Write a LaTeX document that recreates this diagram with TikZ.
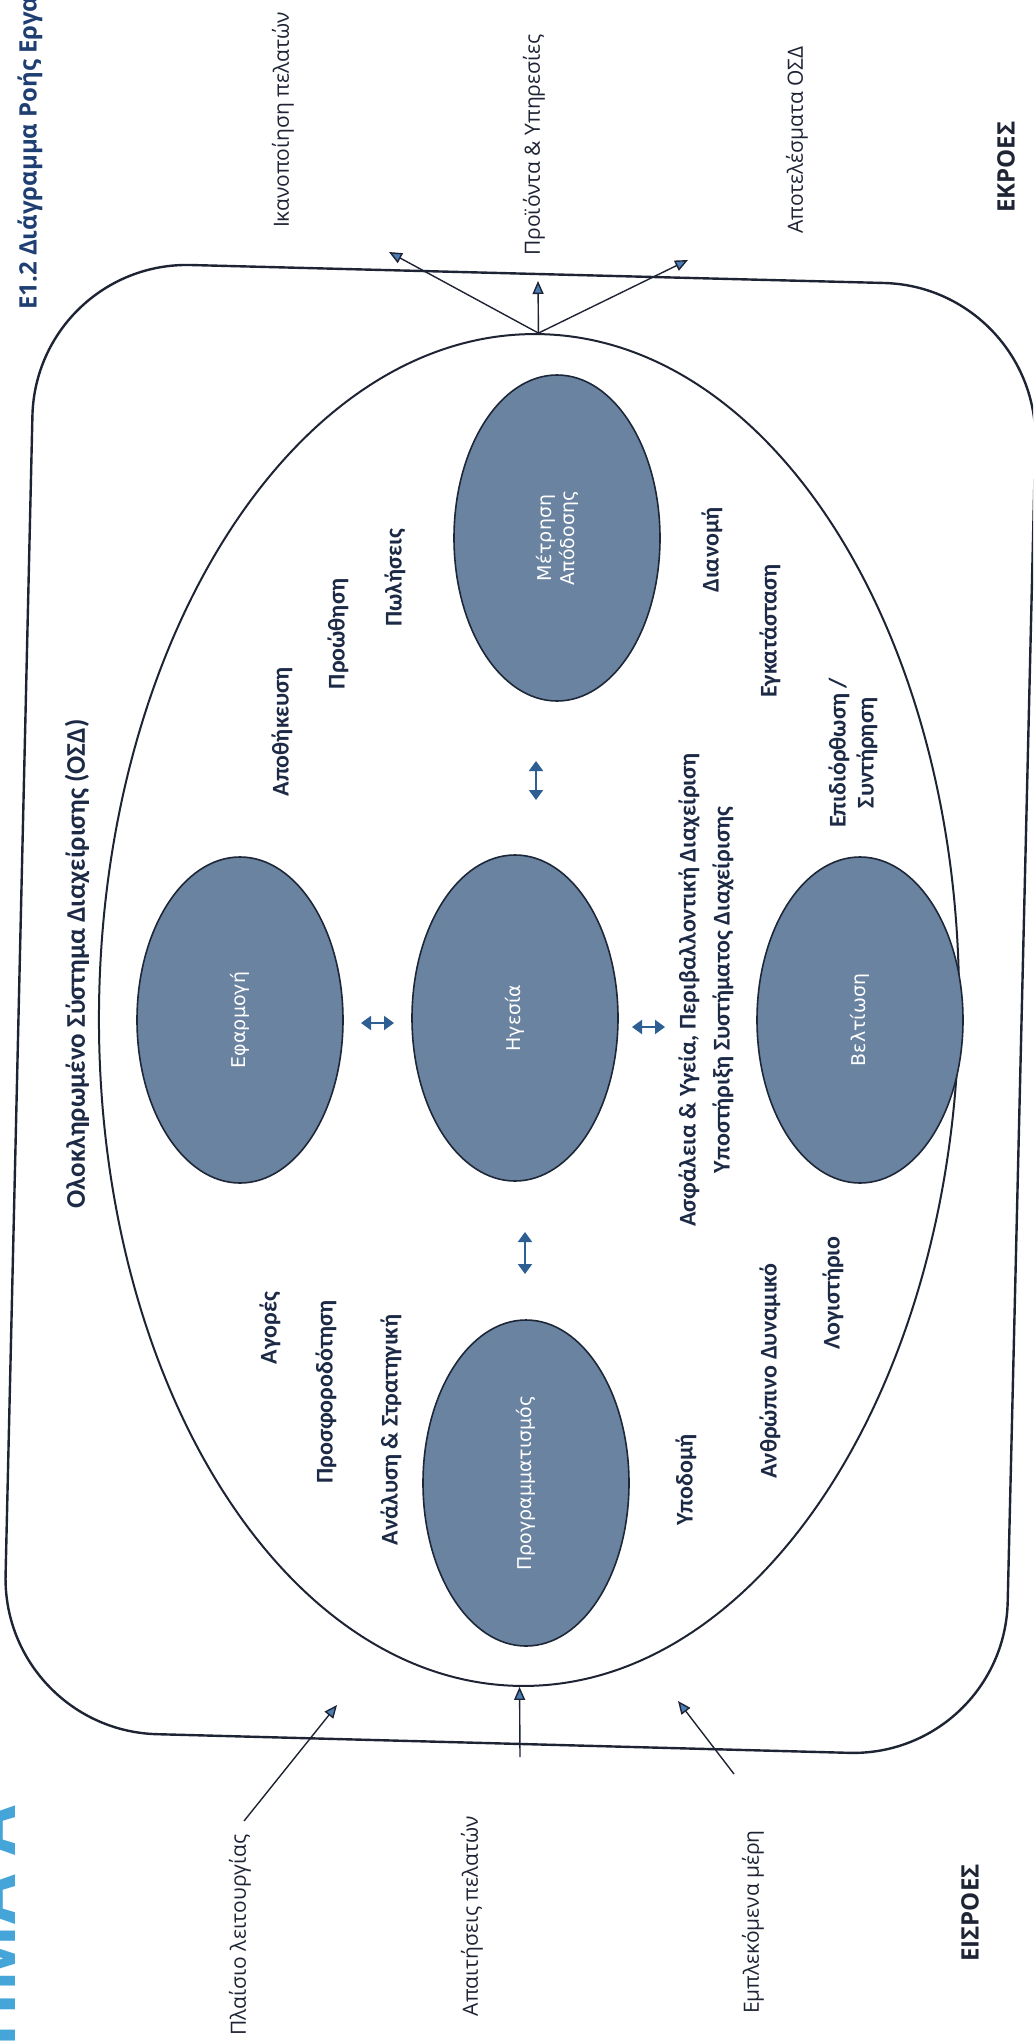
\documentclass[tikz,border=0pt]{standalone}
\usepackage{fontspec}
\setmainfont{Open Sans}
\newfontfamily\boldlab{Carlito}
\newfontfamily\ovfont{DejaVu Sans}
\usetikzlibrary{shapes.geometric,arrows.meta}
\definecolor{ink}{HTML}{1E2434}
\definecolor{navy}{HTML}{1C2A46}
\definecolor{titleblue}{HTML}{1F3F73}
\definecolor{ovfill}{HTML}{6A83A1}
\definecolor{ovline}{HTML}{1D2738}
\definecolor{arrblue}{HTML}{4A7DB5}
\definecolor{dblblue}{HTML}{2D5F92}
\definecolor{cyanhd}{HTML}{45A5D8}
\begin{document}
\begin{tikzpicture}[x=1pt,y=-1pt,
  lbl/.style={rotate=90, inner sep=0pt, text=ink, font=\fontsize{21}{25}\selectfont},
  hdr/.style={rotate=90, inner sep=0pt, text=ink, font=\bfseries\fontsize{24}{28}\selectfont},
  blbl/.style={rotate=90, inner sep=0pt, text=navy, align=center, font=\boldlab\bfseries\fontsize{24}{34}\selectfont},
  oval/.style={ellipse, draw=ovline, line width=1.6pt, fill=ovfill, minimum width=206pt, minimum height=326pt, inner sep=0pt},
  ovlbl/.style={rotate=90, inner sep=0pt, text=white, align=center, font=\ovfont\fontsize{19}{23}\selectfont},
  flow/.style={draw=ink, line width=1.4pt, -{Triangle[length=13pt,width=11pt,fill=arrblue]}},
  dbl/.style={draw=dblblue, line width=2pt, {Triangle[length=10pt,width=14pt]}-{Triangle[length=10pt,width=14pt]}},
  frame/.style={draw=ink, line width=2.4pt}
]
\useasboundingbox (0,0) rectangle (1033,2044);
\fill[white] (0,0) rectangle (1033,2044);
\clip (0,0) rectangle (1033,2044);

% cut-off page heading at the left edge
\node[rotate=90, anchor=base east, inner sep=0pt, text=cyanhd, font=\bfseries\fontsize{72}{80}\selectfont] (hd) at (15,1806) {ΠΑΡΑΡΤΗΜΑ Α};

% outer frame
\draw[frame, rounded corners=155pt] (537,274) -- (1039,287) -- (1004,1757) -- (2,1730) -- (36,261) -- cycle;

% inner ellipse (OSD)
\node[ellipse, draw=ink, line width=2pt, minimum width=860pt, minimum height=1352pt, inner sep=0pt, rotate=-0.8] (osd) at (529,1010) {};

% process ellipses
\node[oval] (mt) at (557,538) {};
\node[ovlbl] at (mt.center) {Μέτρηση\\Απόδοσης};
\node[oval] (ef) at (240,1020) {};
\node[ovlbl] at (ef.center) {Εφαρμογή};
\node[oval] (hg) at (515,1018) {};
\node[ovlbl] at (hg.center) {Ηγεσία};
\node[oval] (bl) at (860,1020) {};
\node[ovlbl] at (bl.center) {Βελτίωση};
\node[oval] (pg) at (526,1483) {};
\node[ovlbl] at (pg.center) {Προγραμματισμός};

% double arrows between ellipses
\coordinate (d1a) at (536,761); \coordinate (d1b) at (536,800);
\coordinate (d2a) at (525,1232); \coordinate (d2b) at (525,1274);
\coordinate (d3a) at (361,1023); \coordinate (d3b) at (394,1023);
\coordinate (d4a) at (632,1027); \coordinate (d4b) at (665,1027);
\draw[dbl] (d1a) -- (d1b);
\draw[dbl] (d2a) -- (d2b);
\draw[dbl] (d3a) -- (d3b);
\draw[dbl] (d4a) -- (d4b);

% outputs
\coordinate (tL) at (389,252);
\coordinate (tM) at (538,281);
\coordinate (tR) at (688,260);
\draw[flow] (osd.north) -- (tL);
\draw[flow] (osd.north) -- (tM);
\draw[flow] (osd.north) -- (tR);

% inputs
\coordinate (bL) at (244,1821); \coordinate (bLh) at (337,1705);
\coordinate (bM) at (520,1757);
\coordinate (bR) at (734,1774); \coordinate (bRh) at (678,1701);
\draw[flow] (bL) -- (bLh);
\draw[flow] (bM) -- (osd.south);
\draw[flow] (bR) -- (bRh);

% top texts
\node[hdr, text=titleblue, anchor=west] (ttl) at (30,310) {Ε1.2 Διάγραμμα Ροής Εργασιών};
\node[lbl] (ikan) at (283,120) {Ικανοποίηση πελατών};
\node[lbl] (proi) at (534,145) {Προϊόντα \& Υπηρεσίες};
\node[lbl] (apot) at (797,140) {Αποτελέσματα ΟΣΔ};
\node[hdr] (ekr) at (1006,167) {ΕΚΡΟΕΣ};

% bottom texts
\node[lbl] (plai) at (240,1935) {Πλαίσιο λειτουργίας};
\node[lbl] (apai) at (472,1916) {Απαιτήσεις πελατών};
\node[lbl] (empl) at (753,1922) {Εμπλεκόμενα μέρη};
\node[hdr] (eisr) at (970,1913) {ΕΙΣΡΟΕΣ};

% inner texts
\node[blbl, font=\boldlab\bfseries\fontsize{27}{32}\selectfont] (osdt) at (77,964) {Ολοκληρωμένο Σύστημα Διαχείρισης (ΟΣΔ)};
\node[blbl] (apoth) at (282,732) {Αποθήκευση};
\node[blbl] (proo) at (338,634) {Προώθηση};
\node[blbl] (polis) at (395,578) {Πωλήσεις};
\node[blbl] (dian) at (712,550) {Διανομή};
\node[blbl] (egk) at (770,631) {Εγκατάσταση};
\node[blbl, font=\boldlab\bfseries\fontsize{24}{28}\selectfont] (epid) at (853,753) {Επιδιόρθωση /\\Συντήρηση};
\node[blbl] (asf) at (706,990) {Ασφάλεια \& Υγεία, Περιβαλλοντική Διαχείριση\\Υποστήριξη Συστήματος Διαχείρισης};
\node[blbl] (agor) at (270,1328) {Αγορές};
\node[blbl] (prosf) at (326,1392) {Προσφοροδότηση};
\node[blbl] (anal) at (391,1430) {Ανάλυση \& Στρατηγική};
\node[blbl] (ypod) at (686,1480) {Υποδομή};
\node[blbl] (anthr) at (770,1371) {Ανθρώπινο Δυναμικό};
\node[blbl] (logi) at (833,1293) {Λογιστήριο};
\end{tikzpicture}
\end{document}
